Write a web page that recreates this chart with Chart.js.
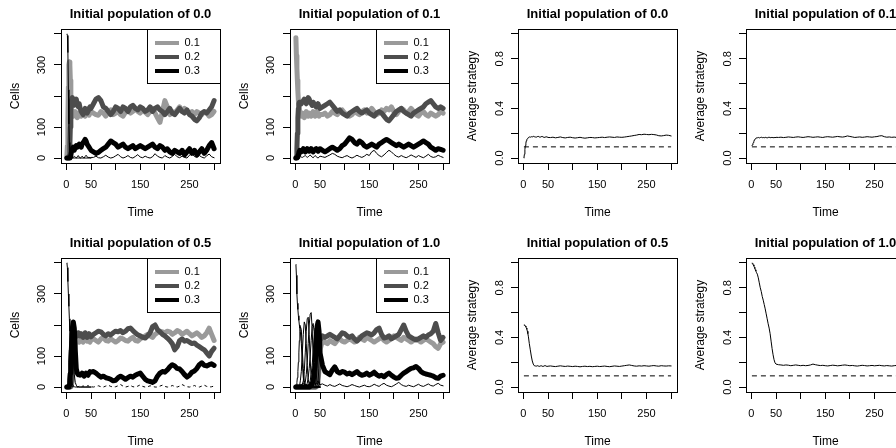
<!DOCTYPE html>
<html>
<head>
<meta charset="utf-8">
<script src="https://cdn.jsdelivr.net/npm/chart.js@4.4.1/dist/chart.umd.min.js"></script>
<style>
  html, body { margin: 0; padding: 0; background: #fff; }
  #fig { position: relative; width: 896px; height: 448px; overflow: hidden; background: #fff; }
  #fig canvas { position: absolute; }
</style>
</head>
<body>
<div id="fig"></div>
<script>
// --- Time base (finer at the start, where things move fast) ---
const T = [1, 2, 3, 4, 5, 6, 7, 8, 9, 10,
  12, 14, 16, 18, 20, 22, 24, 26, 28, 30, 32, 34, 36, 38, 40, 42, 44, 46, 48, 50,
  55, 60, 65, 70, 75, 80, 85, 90, 95, 100,
  105, 110, 115, 120, 125, 130, 135, 140, 145, 150,
  155, 160, 165, 170, 175, 180, 185, 190, 195, 200,
  205, 210, 215, 220, 225, 230, 235, 240, 245, 250,
  255, 260, 265, 270, 275, 280, 285, 290, 295, 300];
const T_EARLY = T.slice(0, 30);

// --- Axis ticks ---
const X_TICKS = [0, 50, 100, 150, 200, 250, 300];
const X_LABELS = ['0', '50', '', '150', '', '250', ''];
const Y_TICKS_CELLS = [0, 100, 200, 300, 400];
const Y_LABELS_CELLS = ['0', '100', '', '300', ''];
const Y_TICKS_STRAT = [0, 0.2, 0.4, 0.6, 0.8, 1.0];
const Y_LABELS_STRAT = ['0.0', '', '0.4', '', '0.8', ''];
const LEGEND_LABELS = ['0.1', '0.2', '0.3'];
const ESS = 0.09;

// --- Panel 1: cells, initial population 0.0 ---
const P1_S01 = [5, 40, 120, 230, 300, 310, 300, 250, 190, 160,
  140, 135, 145, 150, 140, 130, 135, 145, 140, 135, 145, 150, 140, 135, 145, 150, 140, 138, 145, 150,
  145, 140, 138, 150, 145, 135, 150, 155, 140, 145,
  150, 140, 135, 148, 155, 145, 150, 160, 150, 145,
  155, 148, 140, 150, 160, 145, 130, 115, 150, 185,
  165, 140, 150, 145, 155, 165, 150, 160, 150, 145,
  150, 140, 150, 145, 140, 150, 145, 135, 140, 150];
const P1_S02 = [0, 0, 0, 0, 2, 10, 40, 100, 160, 185,
  195, 185, 170, 180, 190, 175, 165, 175, 160, 150, 145, 140, 150, 160, 155, 145, 150, 160, 165, 160,
  175, 190, 195, 185, 165, 160, 150, 140, 150, 165,
  160, 150, 165, 160, 150, 165, 170, 160, 155, 165,
  160, 150, 155, 165, 150, 160, 165, 155, 150, 140,
  150, 160, 145, 140, 150, 160, 150, 145, 155, 140,
  135, 125, 120, 130, 145, 150, 145, 155, 165, 185];
const P1_S03 = [0, 0, 0, 0, 0, 0, 2, 5, 10, 18,
  30, 35, 25, 35, 40, 35, 38, 45, 40, 35, 45, 50, 55, 60, 55, 45, 40, 35, 30, 25,
  20, 15, 18, 25, 30, 35, 45, 55, 50, 45,
  35, 40, 45, 35, 30, 35, 40, 30, 35, 40,
  35, 30, 35, 40, 45, 35, 30, 40, 35, 25,
  30, 20, 15, 25, 20, 15, 25, 10, 20, 30,
  15, 25, 10, 20, 30, 15, 25, 40, 50, 30];
const P1_S00 = [400, 395, 340, 220, 110, 50, 20, 8, 4, 2,
  1, 0, 0, 0, 0, 0, 0, 0, 0, 0, 0, 0, 0, 0, 0, 0, 0, 0, 0, 0];
const P1_S04 = [0, 0, 0, 0, 0, 0, 0, 0, 0, 0,
  0, 2, 5, 3, 0, 4, 8, 3, 0, 2, 6, 2, 0, 5, 9, 4, 1, 3, 0, 2,
  2, 6, 1, 0, 4, 9, 3, 0, 2, 7,
  12, 4, 0, 3, 8, 2, 0, 5, 11, 3,
  1, 6, 2, 0, 4, 14, 6, 2, 0, 8,
  3, 0, 5, 12, 4, 1, 6, 2, 0, 9,
  15, 5, 2, 8, 3, 0, 7, 13, 4, 1];

// --- Panel 2: cells, initial population 0.1 ---
const P2_S01 = [388, 330, 290, 250, 215, 185, 165, 152, 145, 140,
  135, 145, 140, 130, 140, 150, 140, 135, 145, 140, 135, 145, 150, 140, 135, 140, 150, 145, 135, 140,
  140, 145, 135, 140, 150, 145, 140, 150, 155, 145,
  140, 135, 140, 150, 145, 140, 150, 155, 145, 150,
  160, 150, 140, 145, 155, 150, 160, 155, 165, 150,
  140, 150, 160, 155, 145, 150, 160, 150, 140, 135,
  145, 150, 140, 135, 145, 140, 135, 140, 150, 145];
const P2_S02 = [0, 5, 30, 80, 130, 160, 175, 180, 180, 178,
  175, 180, 185, 190, 180, 175, 185, 195, 190, 180, 175, 170, 180, 175, 170, 165, 170, 175, 165, 160,
  165, 170, 175, 180, 170, 160, 150, 155, 145, 140,
  135, 145, 150, 155, 160, 150, 145, 150, 155, 145,
  140, 135, 145, 150, 145, 135, 125, 120, 130, 140,
  150, 155, 160, 150, 145, 140, 135, 145, 150, 155,
  160, 165, 175, 180, 185, 175, 165, 160, 165, 160];
const P2_S03 = [0, 0, 1, 3, 8, 12, 18, 22, 25, 24,
  20, 25, 30, 25, 20, 25, 30, 28, 22, 25, 30, 25, 20, 25, 28, 30, 25, 22, 28, 30,
  25, 20, 25, 30, 35, 30, 25, 30, 40, 45,
  55, 65, 60, 50, 45, 55, 50, 40, 35, 40,
  45, 40, 35, 45, 50, 55, 60, 55, 50, 45,
  40, 45, 40, 35, 40, 45, 40, 35, 40, 45,
  50, 55, 50, 45, 35, 30, 25, 30, 28, 25];
const P2_S04 = [0, 0, 0, 0, 0, 1, 2, 4, 6, 5,
  3, 2, 4, 6, 8, 5, 2, 4, 7, 10, 6, 3, 1, 4, 8, 5, 2, 0, 3, 6,
  4, 2, 6, 10, 15, 12, 6, 3, 1, 5,
  8, 3, 0, 4, 9, 5, 2, 6, 12, 8,
  20, 25, 15, 8, 4, 10, 18, 25, 20, 12,
  6, 3, 8, 4, 1, 5, 10, 6, 2, 8,
  4, 1, 6, 12, 5, 2, 4, 9, 5, 2];

// --- Panel 5: cells, initial population 0.5 ---
const P5_S05 = [400, 385, 340, 300, 260, 220, 180, 120, 70, 35,
  10, 3, 1, 0, 0, 0, 0, 0, 0, 0, 0, 0, 0, 0, 0, 0, 0, 0, 0, 0];
const P5_S04 = [0, 5, 20, 45, 80, 120, 150, 175, 190, 185,
  150, 90, 40, 15, 6, 2, 1, 0, 0, 0, 0, 0, 0, 0, 0, 0, 0, 0, 0, 0];
const P5_S03 = [0, 0, 0, 0, 2, 8, 20, 45, 80, 120,
  190, 210, 190, 120, 60, 45, 40, 42, 38, 40, 45, 40, 35, 40, 45, 40, 38, 45, 50, 48,
  50, 45, 38, 32, 35, 30, 28, 25, 20, 22,
  30, 35, 30, 25, 30, 35, 32, 38, 42, 45,
  35, 25, 20, 18, 15, 20, 35, 45, 50, 48,
  55, 65, 72, 68, 60, 58, 50, 40, 32, 38,
  48, 52, 60, 72, 78, 70, 68, 72, 75, 70];
const P5_S02 = [0, 0, 0, 0, 0, 0, 1, 3, 8, 20,
  60, 120, 160, 175, 170, 165, 175, 170, 165, 172, 168, 160, 165, 175, 170, 160, 165, 172, 168, 162,
  170, 175, 180, 178, 170, 165, 172, 168, 175, 180,
  178, 182, 175, 180, 188, 190, 182, 175, 168, 165,
  160, 158, 165, 175, 195, 200, 185, 178, 170, 165,
  158, 150, 140, 120, 130, 150, 155, 148, 150, 145,
  140, 142, 135, 130, 125, 120, 110, 100, 115, 125];
const P5_S01 = [0, 0, 0, 0, 0, 0, 0, 1, 2, 5,
  20, 60, 110, 140, 150, 155, 150, 145, 152, 158, 150, 145, 155, 160, 150, 148, 155, 150, 145, 152,
  155, 150, 145, 155, 160, 150, 148, 155, 150, 145,
  150, 158, 155, 150, 148, 155, 160, 150, 148, 155,
  160, 165, 170, 165, 160, 170, 175, 180, 178, 175,
  180, 178, 170, 175, 182, 178, 170, 175, 180, 172,
  165, 170, 175, 168, 160, 165, 175, 190, 170, 150];
const P5_S06 = [0, 3, 8, 15, 20, 18, 12, 8, 5, 3,
  2, 1, 0, 0, 2, 0, 1, 3, 0, 0, 2, 4, 1, 0, 0, 3, 5, 2, 0, 1,
  0, 2, 4, 1, 0, 3, 6, 2, 0, 1,
  4, 8, 3, 0, 2, 5, 1, 0, 3, 7,
  2, 0, 1, 4, 2, 0, 0, 3, 6, 2,
  0, 1, 5, 2, 0, 3, 8, 4, 1, 0,
  2, 5, 1, 0, 3, 6, 2, 0, 1, 3];

// --- Panel 6: cells, initial population 1.0 ---
const P6_S10 = [395, 360, 300, 270, 250, 230, 215, 200, 190, 180,
  140, 80, 30, 10, 3, 1, 0, 0, 0, 0, 0, 0, 0, 0, 0, 0, 0, 0, 0, 0];
const P6_S09 = [0, 5, 15, 30, 50, 80, 110, 150, 180, 195,
  185, 120, 60, 20, 8, 3, 0, 0, 0, 0, 0, 0, 0, 0, 0, 0, 0, 0, 0, 0];
const P6_S08 = [0, 0, 0, 0, 0, 0, 2, 5, 10, 20,
  50, 110, 170, 210, 200, 140, 70, 25, 8, 2, 0, 0, 0, 0, 0, 0, 0, 0, 0, 0];
const P6_S07 = [0, 0, 0, 0, 0, 0, 0, 0, 0, 0,
  2, 8, 20, 50, 110, 180, 220, 225, 170, 90, 30, 10, 3, 0, 0, 0, 0, 0, 0, 0];
const P6_S06 = [0, 0, 0, 0, 0, 0, 0, 0, 0, 0,
  0, 0, 2, 5, 15, 40, 80, 140, 200, 235, 240, 190, 100, 40, 12, 3, 0, 0, 0, 0];
const P6_S05 = [0, 0, 0, 0, 0, 0, 0, 0, 0, 0,
  0, 0, 0, 0, 2, 5, 12, 30, 60, 100, 150, 195, 205, 180, 110, 50, 15, 5, 2, 0];
const P6_S04 = [0, 0, 0, 0, 0, 0, 0, 0, 0, 0,
  0, 0, 0, 0, 0, 0, 2, 5, 10, 20, 40, 70, 110, 160, 190, 185, 130, 60, 20, 5];
const P6_S03 = [0, 0, 0, 0, 0, 0, 0, 0, 0, 0,
  0, 0, 0, 0, 0, 0, 0, 0, 0, 2, 5, 10, 20, 40, 80, 140, 195, 210, 180, 110,
  70, 50, 45, 40, 55, 65, 50, 45, 50, 48,
  42, 45, 40, 45, 50, 42, 38, 40, 45, 38,
  42, 48, 40, 35, 38, 33, 40, 45, 38, 32,
  28, 30, 38, 45, 50, 55, 60, 62, 66, 60,
  50, 45, 42, 40, 38, 35, 30, 28, 35, 38];
const P6_S02 = [0, 0, 0, 0, 0, 0, 0, 0, 0, 0,
  0, 0, 0, 0, 0, 0, 0, 0, 0, 0, 0, 0, 0, 0, 0, 2, 10, 40, 100, 150,
  165, 160, 165, 170, 165, 160, 155, 165, 175, 172,
  165, 160, 165, 155, 148, 155, 165, 170, 175, 172,
  168, 175, 185, 190, 170, 158, 160, 165, 155, 160,
  165, 170, 185, 200, 180, 165, 160, 155, 152, 155,
  160, 165, 160, 168, 172, 180, 205, 175, 150, 160];
const P6_S01 = [0, 0, 0, 0, 0, 0, 0, 0, 0, 0,
  0, 0, 0, 0, 0, 0, 0, 0, 0, 0, 0, 0, 0, 0, 0, 0, 2, 15, 60, 120,
  150, 145, 140, 150, 145, 140, 150, 155, 148, 145,
  150, 155, 150, 145, 150, 160, 155, 150, 160, 155,
  150, 145, 150, 155, 160, 150, 145, 150, 160, 165,
  160, 155, 150, 160, 155, 150, 145, 150, 155, 150,
  145, 150, 155, 150, 145, 140, 130, 125, 140, 145];
const P6_S00 = [0, 0, 0, 0, 0, 1, 2, 3, 5, 6,
  8, 10, 12, 10, 8, 6, 5, 4, 5, 6, 8, 10, 12, 15, 12, 10, 15, 20, 10, 8,
  10, 6, 3, 8, 4, 2, 6, 10, 5, 3,
  1, 4, 8, 5, 2, 0, 3, 6, 2, 1,
  4, 9, 5, 2, 8, 12, 6, 3, 1, 5,
  10, 15, 8, 4, 2, 6, 3, 1, 5, 9,
  4, 2, 6, 10, 5, 3, 8, 12, 6, 4];

// --- Average strategy panels ---
const P3_AVG = [0, 0.03, 0.07, 0.10, 0.12, 0.14, 0.15, 0.155, 0.16, 0.165,
  0.17, 0.168, 0.172, 0.17, 0.175, 0.172, 0.17, 0.168, 0.172, 0.175, 0.17, 0.168, 0.172, 0.174, 0.17, 0.166, 0.168, 0.171, 0.17, 0.166,
  0.165, 0.168, 0.163, 0.166, 0.17, 0.165, 0.162, 0.166, 0.168, 0.164,
  0.161, 0.164, 0.167, 0.163, 0.16, 0.163, 0.166, 0.165, 0.162, 0.164,
  0.166, 0.168, 0.165, 0.168, 0.17, 0.168, 0.166, 0.17, 0.168, 0.167,
  0.169, 0.172, 0.175, 0.178, 0.182, 0.185, 0.19, 0.188, 0.192, 0.19,
  0.188, 0.191, 0.189, 0.186, 0.18, 0.178, 0.181, 0.185, 0.183, 0.178];
const P4_AVG = [0.10, 0.105, 0.115, 0.125, 0.135, 0.145, 0.15, 0.155, 0.16, 0.162,
  0.163, 0.166, 0.162, 0.165, 0.168, 0.164, 0.166, 0.163, 0.167, 0.165, 0.162, 0.166, 0.168, 0.164, 0.165, 0.167, 0.163, 0.166, 0.164, 0.167,
  0.166, 0.168, 0.165, 0.167, 0.17, 0.168, 0.166, 0.169, 0.171, 0.168,
  0.166, 0.169, 0.172, 0.17, 0.167, 0.169, 0.171, 0.168, 0.166, 0.17,
  0.172, 0.17, 0.168, 0.171, 0.174, 0.171, 0.169, 0.172, 0.178, 0.174,
  0.17, 0.166, 0.168, 0.17, 0.167, 0.169, 0.172, 0.17, 0.168, 0.171,
  0.173, 0.178, 0.18, 0.172, 0.168, 0.17, 0.167, 0.169, 0.166, 0.165];
const P7_AVG = [0.50, 0.50, 0.497, 0.492, 0.485, 0.475, 0.465, 0.45, 0.43, 0.41,
  0.35, 0.30, 0.25, 0.21, 0.185, 0.172, 0.17, 0.168, 0.172, 0.17, 0.166, 0.169, 0.172, 0.168, 0.166, 0.17, 0.173, 0.169, 0.166, 0.168,
  0.17, 0.167, 0.165, 0.168, 0.171, 0.168, 0.166, 0.169, 0.167, 0.165,
  0.168, 0.166, 0.163, 0.166, 0.168, 0.165, 0.167, 0.164, 0.166, 0.168,
  0.165, 0.167, 0.169, 0.166, 0.164, 0.167, 0.17, 0.168, 0.166, 0.169,
  0.172, 0.175, 0.178, 0.174, 0.17, 0.168, 0.171, 0.169, 0.172, 0.17,
  0.168, 0.171, 0.173, 0.17, 0.168, 0.172, 0.17, 0.169, 0.171, 0.17];
const P8_AVG = [1.0, 0.995, 0.99, 0.985, 0.975, 0.965, 0.955, 0.945, 0.935, 0.925,
  0.91, 0.88, 0.84, 0.80, 0.77, 0.73, 0.70, 0.665, 0.63, 0.59, 0.55, 0.51, 0.475, 0.43, 0.37, 0.31, 0.26, 0.22, 0.195, 0.185,
  0.18, 0.178, 0.175, 0.178, 0.176, 0.172, 0.175, 0.178, 0.175, 0.172,
  0.175, 0.172, 0.174, 0.178, 0.185, 0.18, 0.176, 0.173, 0.175, 0.172,
  0.17, 0.173, 0.176, 0.174, 0.171, 0.173, 0.176, 0.178, 0.175, 0.172,
  0.174, 0.171, 0.169, 0.172, 0.175, 0.173, 0.17, 0.172, 0.174, 0.171,
  0.173, 0.175, 0.172, 0.17, 0.173, 0.171, 0.169, 0.172, 0.174, 0.171];

// --- Styles ---
const STYLES = {
  light:  { color: '#9a9a9a', width: 5, order: 4 },
  dark:   { color: '#4d4d4d', width: 5, order: 3 },
  black:  { color: '#000000', width: 5, order: 2 },
  thin:   { color: '#000000', width: 1, order: 1 },
  dashed: { color: '#000000', width: 1, order: 1, dash: [3, 3] },
  ess:    { color: '#000000', width: 1, order: 1, dash: [5, 4] },
};

const COL_X = [0, 229, 457, 685];
const ROW_Y = [0, 229];
const CELL = 229;

const cellSeries = (s01, s02, s03, extra) => [
  { label: '0.1', t: T, v: s01, style: 'light' },
  { label: '0.2', t: T, v: s02, style: 'dark' },
  { label: '0.3', t: T, v: s03, style: 'black' },
  ...extra,
];
const stratSeries = (avg) => [
  { label: 'avg', t: T, v: avg, style: 'thin' },
  { label: 'ess', t: [1, 300], v: [ESS, ESS], style: 'ess' },
];

const PANELS = [
  { col: 0, row: 0, kind: 'cells', title: 'Initial population of 0.0',
    series: cellSeries(P1_S01, P1_S02, P1_S03, [
      { label: '0.0', t: T_EARLY, v: P1_S00, style: 'thin' },
      { label: '0.4', t: T, v: P1_S04, style: 'thin' }]) },
  { col: 1, row: 0, kind: 'cells', title: 'Initial population of 0.1',
    series: cellSeries(P2_S01, P2_S02, P2_S03, [
      { label: '0.4', t: T, v: P2_S04, style: 'thin' }]) },
  { col: 2, row: 0, kind: 'strat', title: 'Initial population of 0.0', series: stratSeries(P3_AVG) },
  { col: 3, row: 0, kind: 'strat', title: 'Initial population of 0.1', series: stratSeries(P4_AVG) },
  { col: 0, row: 1, kind: 'cells', title: 'Initial population of 0.5',
    series: cellSeries(P5_S01, P5_S02, P5_S03, [
      { label: '0.5', t: T_EARLY, v: P5_S05, style: 'thin' },
      { label: '0.4', t: T_EARLY, v: P5_S04, style: 'thin' },
      { label: '0.6', t: T, v: P5_S06, style: 'dashed' }]) },
  { col: 1, row: 1, kind: 'cells', title: 'Initial population of 1.0',
    series: cellSeries(P6_S01, P6_S02, P6_S03, [
      { label: '1.0', t: T_EARLY, v: P6_S10, style: 'thin' },
      { label: '0.9', t: T_EARLY, v: P6_S09, style: 'thin' },
      { label: '0.8', t: T_EARLY, v: P6_S08, style: 'thin' },
      { label: '0.7', t: T_EARLY, v: P6_S07, style: 'thin' },
      { label: '0.6', t: T_EARLY, v: P6_S06, style: 'thin' },
      { label: '0.5', t: T_EARLY, v: P6_S05, style: 'thin' },
      { label: '0.4', t: T_EARLY, v: P6_S04, style: 'thin' },
      { label: '0.0', t: T, v: P6_S00, style: 'thin' }]) },
  { col: 2, row: 1, kind: 'strat', title: 'Initial population of 0.5', series: stratSeries(P7_AVG) },
  { col: 3, row: 1, kind: 'strat', title: 'Initial population of 1.0', series: stratSeries(P8_AVG) },
];

Chart.defaults.font.family = '"Liberation Sans", Arial, sans-serif';
Chart.defaults.color = '#000';

// legend sits in the top-right corner of the plot box, with a frame
const legendBox = {
  id: 'legendBox',
  afterLayout(chart) {
    if (!chart.options.plugins.legend.display) return;
    const lg = chart.legend;
    const a = chart.chartArea;
    lg.left = a.right - 68;
    lg.top = a.top + 5.5;
    lg.right = lg.left + lg.width;
    lg.bottom = lg.top + lg.height;
  },
  afterDraw(chart) {
    if (!chart.options.plugins.legend.display) return;
    const a = chart.chartArea;
    const ctx = chart.ctx;
    ctx.save();
    ctx.strokeStyle = '#000';
    ctx.lineWidth = 1;
    ctx.strokeRect(Math.round(a.right - 73) + 0.5, Math.round(a.top) + 0.5, 73, 54);
    ctx.restore();
  },
};

const fig = document.getElementById('fig');

function makePanel(p) {
  const canvas = document.createElement('canvas');
  canvas.width = CELL;
  canvas.height = CELL;
  canvas.style.left = COL_X[p.col] + 'px';
  canvas.style.top = ROW_Y[p.row] + 'px';
  fig.appendChild(canvas);

  const cells = p.kind === 'cells';
  const yTicks = cells ? Y_TICKS_CELLS : Y_TICKS_STRAT;
  const yLabels = cells ? Y_LABELS_CELLS : Y_LABELS_STRAT;

  const datasets = p.series.map((s) => {
    const st = STYLES[s.style];
    return {
      label: s.label,
      data: s.t.map((t, i) => ({ x: t, y: s.v[i] })),
      borderColor: st.color,
      backgroundColor: st.color,
      borderWidth: st.width,
      borderDash: st.dash || [],
      borderJoinStyle: 'round',
      borderCapStyle: st.dash ? 'butt' : 'round',
      order: st.order,
      pointRadius: 0,
      tension: 0,
      xAxisID: 'x',
      yAxisID: 'y',
    };
  });

  const frame = { display: true, color: '#000', width: 1 };

  new Chart(canvas, {
    type: 'line',
    data: { datasets },
    options: {
      responsive: false,
      animation: false,
      devicePixelRatio: 1,
      layout: { padding: { left: 0, right: 9, top: 0, bottom: 0 } },
      plugins: {
        legend: {
          display: cells,
          position: 'chartArea',
          align: 'start',
          labels: {
            boxWidth: 24,
            boxHeight: 4,
            padding: 3,
            color: '#000',
            font: { size: 11 },
            generateLabels: (chart) => chart.data.datasets
              .map((ds, i) => ({ text: ds.label, fillStyle: ds.borderColor, strokeStyle: ds.borderColor,
                lineWidth: 0, hidden: false, datasetIndex: i, fontColor: '#000' }))
              .filter((item) => LEGEND_LABELS.includes(item.text)),
          },
        },
        tooltip: { enabled: false },
      },
      scales: {
        x: {
          type: 'linear',
          position: 'bottom',
          min: -11,
          max: 312,
          afterBuildTicks: (scale) => { scale.ticks = X_TICKS.map((v) => ({ value: v })); },
          afterFit: (scale) => { scale.height = 66; },
          grid: { drawOnChartArea: false, drawTicks: true, tickLength: 7, color: '#000', tickColor: '#000' },
          border: frame,
          ticks: { autoSkip: false, maxRotation: 0, padding: 8, font: { size: 11 }, color: '#000',
            callback: (v, i) => X_LABELS[i] },
          title: { display: true, text: 'Time', font: { size: 12 }, color: '#000', padding: { top: 0, bottom: 9.5 } },
        },
        xTop: {
          type: 'linear',
          position: 'top',
          display: true,
          min: -11,
          max: 312,
          afterFit: (scale) => { scale.height = 29; },
          grid: { display: false },
          border: frame,
          ticks: { display: false },
          title: { display: true, text: p.title, font: { size: 13, weight: 'bold' }, color: '#000',
            padding: { top: 6.4, bottom: 0 } },
        },
        y: {
          type: 'linear',
          position: 'left',
          min: cells ? -16 : -0.04,
          max: cells ? 416 : 1.04,
          afterBuildTicks: (scale) => { scale.ticks = yTicks.map((v) => ({ value: v })); },
          afterFit: (scale) => { scale.width = 61; },
          grid: { drawOnChartArea: false, drawTicks: true, tickLength: 7, color: '#000', tickColor: '#000' },
          border: frame,
          ticks: { autoSkip: false, minRotation: 90, maxRotation: 90, crossAlign: 'center', padding: 3,
            font: { size: 11 }, color: '#000', callback: (v, i) => yLabels[i] },
          title: { display: true, text: cells ? 'Cells' : 'Average strategy', font: { size: 12 }, color: '#000',
            padding: { top: 8, bottom: 0 } },
        },
        yRight: {
          type: 'linear',
          position: 'right',
          display: true,
          min: 0,
          max: 1,
          afterFit: (scale) => { scale.width = 0; },
          grid: { display: false },
          border: frame,
          ticks: { display: false },
        },
      },
    },
    plugins: [legendBox],
  });
}

PANELS.forEach(makePanel);
</script>
</body>
</html>
